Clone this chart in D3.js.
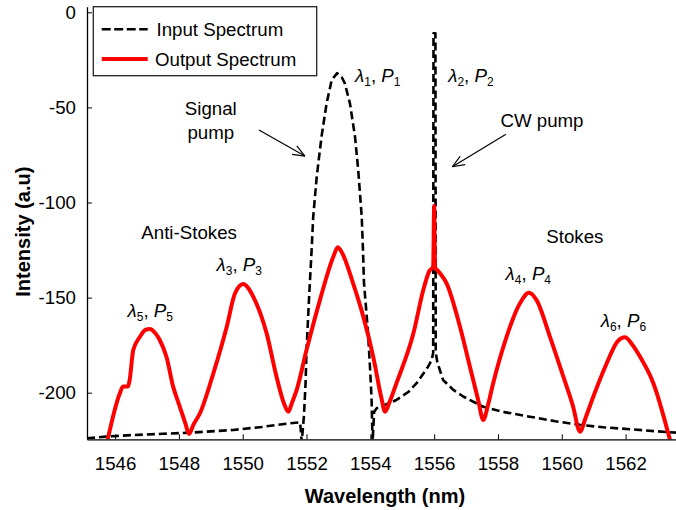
<!DOCTYPE html>
<html><head><meta charset="utf-8">
<script src="https://cdn.jsdelivr.net/npm/d3@7"></script>
<style>
html,body{margin:0;padding:0;background:#fff;}
svg{display:block;font-family:"Liberation Sans",Arial,sans-serif;}
</style></head>
<body><svg id="chart" width="676" height="510"></svg>
<script>
// ---- data ----
const inputX = [1545.12,1545.7,1546.5,1547.5,1548.34,1549.7,1550.6,1551.48,1551.8,1551.85,1551.92,1551.97,1552.0,1552.08,1552.16,1552.21,1552.32,1552.47,1552.63,1552.79,1552.96,1553.1,1553.2,1553.36,1553.52,1553.62,1553.73,1553.77,1553.8,1553.93,1554.0,1554.04,1554.07,1554.12,1554.2,1554.82,1555.2,1555.45,1555.7,1555.81,1555.92,1555.97,1555.98,1556.04,1556.05,1556.1,1556.28,1556.6,1556.91,1557.54,1558.2,1559.0,1559.8,1560.57,1561.3,1562.14,1562.9,1563.58];
const inputY = [-224,-223.1,-222.3,-221.6,-221,-219.6,-218,-216.1,-215.6,-226,-212,-195,-177.6,-150,-125,-107.5,-86.4,-65.4,-47.8,-35.6,-32,-34,-37.3,-47.8,-65.4,-82.9,-107.5,-125,-142,-168.8,-190,-203.8,-226,-210,-208.2,-203.8,-199.5,-195,-189,-186.3,-183,-179,-11,-11,-179,-184,-193.3,-198.5,-202,-207.4,-210.2,-212.6,-215,-216.9,-218.2,-219.2,-220.2,-221];
const outputX = [1545.75,1546.15,1546.25,1546.4,1546.45,1546.57,1546.78,1546.95,1547.09,1547.25,1547.4,1547.61,1547.82,1548.03,1548.2,1548.32,1548.45,1548.66,1549.08,1549.5,1549.76,1550.02,1550.15,1550.33,1550.75,1551.06,1551.3,1551.43,1551.55,1551.69,1552.0,1552.42,1552.84,1552.98,1553.1,1553.46,1553.78,1554.09,1554.35,1554.46,1554.6,1554.82,1555.35,1555.66,1555.85,1555.97,1556.0,1556.03,1556.15,1556.39,1556.81,1557.12,1557.38,1557.54,1557.68,1557.85,1558.27,1558.69,1558.97,1559.21,1559.63,1560.05,1560.35,1560.57,1560.75,1560.99,1561.41,1561.75,1561.98,1562.2,1562.45,1562.87,1563.41];
const outputY = [-226,-200.3,-196.8,-196.8,-194,-177.6,-170.6,-167,-166.5,-168.5,-172.3,-181.1,-196.8,-207.4,-216,-221.7,-217,-210.8,-189.8,-165.3,-147.7,-142.9,-144.5,-149.5,-168.8,-191.6,-206,-210,-205,-198.6,-177.6,-151.3,-128.5,-123.5,-126,-142.5,-160,-181,-203,-210,-205,-195,-168.8,-146,-136,-133.7,-101.7,-134,-136.5,-142.5,-165.3,-186.3,-203.8,-214.4,-207,-195,-170.6,-153,-147.4,-151.3,-170.6,-191.6,-207,-220.5,-213,-202,-184.5,-173,-170.9,-174.5,-181,-195,-226];
const xTicks = [1546,1548,1550,1552,1554,1556,1558,1560,1562];
const yTicks = [-200,-150,-100,-50,0];
const seriesNames = ["Input Spectrum","Output Spectrum"];
const peakLabels = [
  {n:"1", x:1553.52, y:-36.5},
  {n:"2", x:1556.44, y:-36.5},
  {n:"3", x:1549.18, y:-135.9},
  {n:"4", x:1558.24, y:-140.7},
  {n:"5", x:1546.39, y:-160.0},
  {n:"6", x:1561.22, y:-165.6}
];
const textNotes = [
  {t:"Anti-Stokes", x:1548.32, y:-119.3},
  {t:"Stokes", x:1560.41, y:-121.5},
  {t:"Signal", x:1549.0, y:-54.0},
  {t:"pump", x:1549.0, y:-66.6},
  {t:"CW pump", x:1559.38, y:-60.1}
];
const arrows = [
  {x1:1550.51, y1:-61.9, x2:1551.95, y2:-75.6},
  {x1:1558.25, y1:-64.1, x2:1556.57, y2:-81.2}
];

// ---- layout ----
const svg = d3.select("#chart");
const L = 87, R = 676, T = 6.8, B = 439.3;
const x = d3.scaleLinear().domain([1545.12,1563.58]).range([L,R]);
const y = d3.scaleLinear().domain([-224.5,2.9]).range([B,T]);
const FS = 18.7;

svg.append("defs").append("clipPath").attr("id","clip")
  .append("rect").attr("x",L).attr("y",T).attr("width",R-L).attr("height",B-T);

const inputData = inputX.map((v,i)=>[v,inputY[i]]);
const outputData = outputX.map((v,i)=>[v,outputY[i]]);
const line = d3.line().x(d=>x(d[0])).y(d=>y(d[1]));
const smooth = d3.line().x(d=>x(d[0])).y(d=>y(d[1])).curve(d3.curveMonotoneX);

const g = svg.append("g").attr("clip-path","url(#clip)");
g.append("path").datum(inputData).attr("d",line)
  .attr("fill","none").attr("stroke","#000").attr("stroke-width",2.6)
  .attr("stroke-dasharray","8,4").attr("stroke-linejoin","round");
g.append("path").datum(outputData).attr("d",smooth)
  .attr("fill","none").attr("stroke","#ff0000").attr("stroke-width",4)
  .attr("stroke-linejoin","round").attr("stroke-linecap","round");

// axes
const xAxis = d3.axisBottom(x).tickValues(xTicks).tickSizeInner(-5).tickSizeOuter(0).tickPadding(17).tickFormat(d3.format("d"));
const gx = svg.append("g").attr("transform",`translate(0,${B})`).call(xAxis);
const yAxis = d3.axisLeft(y).tickValues(yTicks).tickSizeInner(-5).tickSizeOuter(0).tickPadding(11).tickFormat(d3.format("d"));
const gy = svg.append("g").attr("transform",`translate(${L},0)`).call(yAxis);
[gx,gy].forEach(a=>{
  a.selectAll("text").attr("font-size",FS).attr("fill","#000").attr("font-family","Liberation Sans, Arial, sans-serif");
  a.select(".domain").attr("stroke","#000").attr("stroke-width",1.3);
  a.selectAll(".tick line").attr("stroke","#000").attr("stroke-width",1);
});
gy.selectAll("text").text(d=>d===0?"0":"-"+Math.abs(d));

svg.append("text").attr("x",385).attr("y",503).attr("text-anchor","middle")
  .attr("font-weight","bold").attr("font-size",20).text("Wavelength (nm)");
svg.append("text").attr("transform","translate(29.5,231.7) rotate(-90)").attr("text-anchor","middle")
  .attr("font-weight","bold").attr("font-size",20).text("Intensity (a.u)");

// annotations
textNotes.forEach(n=>{
  svg.append("text").attr("x",x(n.x)).attr("y",y(n.y)).attr("text-anchor","middle")
    .attr("font-size",FS).attr("fill","#000").text(n.t);
});
peakLabels.forEach(p=>{
  const t = svg.append("text").attr("x",x(p.x)).attr("y",y(p.y)).attr("font-size",FS).attr("fill","#000");
  t.append("tspan").attr("font-style","italic").text("\u03bb");
  t.append("tspan").attr("font-size",12).attr("dy",4).text(p.n);
  t.append("tspan").attr("dy",-4).text(", ");
  t.append("tspan").attr("font-style","italic").text("P");
  t.append("tspan").attr("font-size",12).attr("dy",4).text(p.n);
});
arrows.forEach(a=>{
  const x1=x(a.x1), y1=y(a.y1), x2=x(a.x2), y2=y(a.y2);
  svg.append("line").attr("x1",x1).attr("y1",y1).attr("x2",x2).attr("y2",y2)
    .attr("stroke","#000").attr("stroke-width",1.2);
  const ang = Math.atan2(y2-y1,x2-x1), len=13, sp=0.38;
  [ang+Math.PI-sp, ang+Math.PI+sp].forEach(b=>{
    svg.append("line").attr("x1",x2).attr("y1",y2)
      .attr("x2",x2+len*Math.cos(b)).attr("y2",y2+len*Math.sin(b))
      .attr("stroke","#000").attr("stroke-width",1.2);
  });
});

// legend
const lg = svg.append("g");
lg.append("rect").attr("x",93.3).attr("y",6.7).attr("width",223.4).attr("height",69)
  .attr("fill","#fff").attr("stroke","#222").attr("stroke-width",1.3);
lg.append("line").attr("x1",101.7).attr("x2",147.7).attr("y1",29.3).attr("y2",29.3)
  .attr("stroke","#000").attr("stroke-width",2.6).attr("stroke-dasharray","9,3.5");
lg.append("line").attr("x1",101.7).attr("x2",147.7).attr("y1",59).attr("y2",59)
  .attr("stroke","#ff0000").attr("stroke-width",4);
lg.append("text").attr("x",156.5).attr("y",35.5).attr("font-size",FS).text(seriesNames[0]);
lg.append("text").attr("x",155).attr("y",65.5).attr("font-size",FS).text(seriesNames[1]);
</script></body></html>
